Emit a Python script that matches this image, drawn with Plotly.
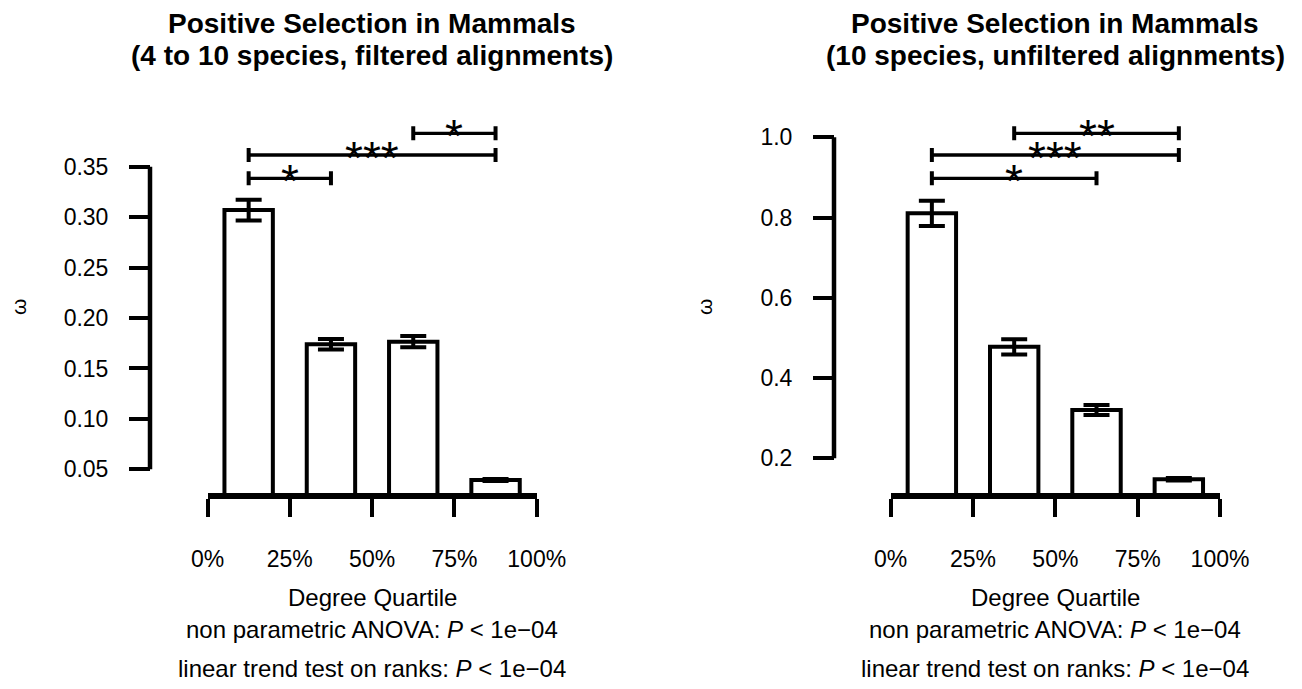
import plotly.graph_objects as go

# ---------------- data ----------------
quartile_ticks = [0, 25, 50, 75, 100]
quartile_labels = ["0%", "25%", "50%", "75%", "100%"]
bar_x = [12.5, 37.5, 62.5, 87.5]

left_means = [0.307, 0.174, 0.1765, 0.0394]
left_se = [0.0103, 0.0053, 0.0056, 0.0010]
left_yticks = [0.05, 0.10, 0.15, 0.20, 0.25, 0.30, 0.35]
left_pairs = [(0, 1), (0, 3), (2, 3)]
left_levels = [0.3385, 0.3616, 0.3831]
left_stars = ["*", "***", "*"]

right_means = [0.8106, 0.478, 0.3204, 0.1477]
right_se = [0.0315, 0.019, 0.0125, 0.003]
right_yticks = [0.2, 0.4, 0.6, 0.8, 1.0]
right_pairs = [(0, 2), (0, 3), (1, 3)]
right_levels = [0.8978, 0.9559, 1.0100]
right_stars = ["*", "***", "**"]

titles = [
    ("Positive Selection in Mammals", "(4 to 10 species, filtered alignments)"),
    ("Positive Selection in Mammals", "(10 species, unfiltered alignments)"),
]
xlabel = "Degree Quartile"
stat1 = "non parametric ANOVA: <i>P</i> &lt; 1e\u221204"
stat2 = "linear trend test on ranks: <i>P</i> &lt; 1e\u221204"
ylabel = "\u03c9"

# ---------------- layout geometry ----------------
W, H = 1302, 689
FONT = "Liberation Sans, Arial, Helvetica, sans-serif"


def px(xp):
    return xp / W


def py(yp):
    return 1 - yp / H


panels = [
    dict(xdom=(207.5, 536.7), yaxis_x=150, yrange=[0.02651, 0.41612],
         means=left_means, se=left_se, yticks=left_yticks, fmt=".2f",
         pairs=left_pairs, levels=left_levels, stars=left_stars,
         ylab_x=18, center=372, title=titles[0]),
    dict(xdom=(890.7, 1220.0), yaxis_x=834, yrange=[0.11352, 1.0930],
         means=right_means, se=right_se, yticks=right_yticks, fmt=".1f",
         pairs=right_pairs, levels=right_levels, stars=right_stars,
         ylab_x=704, center=1055, title=titles[1]),
]

fig = go.Figure()
shapes = []
annotations = []
layout = dict(
    template="none",
    width=W, height=H,
    margin=dict(l=0, r=0, t=0, b=0, pad=0),
    paper_bgcolor="white", plot_bgcolor="white",
    showlegend=False,
    font=dict(family=FONT, color="black"),
)

ydom = [py(493), py(100)]

for i, p in enumerate(panels):
    sfx = "" if i == 0 else str(i + 1)
    xa, ya = "x" + sfx, "y" + sfx
    fig.add_trace(go.Bar(
        x=bar_x, y=p["means"], width=14.7, xaxis=xa, yaxis=ya,
        marker=dict(color="white", line=dict(color="black", width=4)),
        error_y=dict(type="data", array=p["se"], color="black",
                     thickness=4, width=13),
        hoverinfo="skip",
    ))
    # significance brackets
    for (a, b), lvl, st in zip(p["pairs"], p["levels"], p["stars"]):
        x0, x1 = bar_x[a], bar_x[b]
        fig.add_trace(go.Scatter(
            x=[x0, x1], y=[lvl, lvl], mode="lines", xaxis=xa, yaxis=ya,
            line=dict(color="black", width=3.3), cliponaxis=False,
            hoverinfo="skip",
        ))
        for xe in (x0, x1):
            shapes.append(dict(
                type="line", xref=xa, yref=ya, x0=xe, x1=xe,
                ysizemode="pixel", yanchor=lvl, y0=-7, y1=7,
                line=dict(color="black", width=4),
            ))
        annotations.append(dict(
            x=(x0 + x1) / 2, y=lvl, xref=xa, yref=ya, text=st,
            showarrow=False, xanchor="center", yanchor="middle", yshift=-3,
            font=dict(size=46, family=FONT, color="black"),
        ))
    # detached y-axis line (R style)
    shapes.append(dict(
        type="line", xref="paper", yref=ya,
        x0=px(p["yaxis_x"]), x1=px(p["yaxis_x"]),
        y0=p["yticks"][0], y1=p["yticks"][-1],
        line=dict(color="black", width=4.5),
    ))
    layout["xaxis" + sfx] = dict(
        domain=[px(p["xdom"][0]), px(p["xdom"][1])], range=[0, 100],
        anchor=ya, tickvals=quartile_ticks, ticktext=quartile_labels,
        ticks="outside", ticklen=18, tickwidth=4, tickcolor="black",
        showline=True, linewidth=6, linecolor="black",
        showgrid=False, zeroline=False, fixedrange=True, automargin=False,
        tickfont=dict(size=23, family=FONT, color="black"),
        ticklabelstandoff=22,
    )
    layout["yaxis" + sfx] = dict(
        domain=ydom, range=p["yrange"], anchor="free",
        position=px(p["yaxis_x"]),
        tickvals=p["yticks"], tickformat=p["fmt"],
        ticks="outside", ticklen=21, tickwidth=4, tickcolor="black",
        showline=False, showgrid=False, zeroline=False, fixedrange=True,
        automargin=False,
        tickfont=dict(size=23, family=FONT, color="black"),
        ticklabelstandoff=16,
    )
    # titles
    annotations.append(dict(
        x=px(p["center"]), y=py(24), xref="paper", yref="paper",
        text="<b>%s</b>" % p["title"][0], showarrow=False,
        xanchor="center", yanchor="middle",
        font=dict(size=28, family=FONT, color="black"),
    ))
    annotations.append(dict(
        x=px(p["center"]), y=py(56), xref="paper", yref="paper",
        text="<b>%s</b>" % p["title"][1], showarrow=False,
        xanchor="center", yanchor="middle",
        font=dict(size=28, family=FONT, color="black"),
    ))
    # x label and stats
    for txt, yy in ((xlabel, 597), (stat1, 629), (stat2, 668)):
        annotations.append(dict(
            x=px(p["center"]), y=py(yy), xref="paper", yref="paper",
            text=txt, showarrow=False, xanchor="center", yanchor="middle",
            font=dict(size=24, family=FONT, color="black"),
        ))
    # y label
    annotations.append(dict(
        x=px(p["ylab_x"]), y=py(307), xref="paper", yref="paper",
        text=ylabel, showarrow=False, textangle=-90,
        xanchor="center", yanchor="middle",
        font=dict(size=21, family=FONT, color="black"),
    ))

layout["shapes"] = shapes
layout["annotations"] = annotations
fig.update_layout(**layout)
fig.write_html("out.html")
